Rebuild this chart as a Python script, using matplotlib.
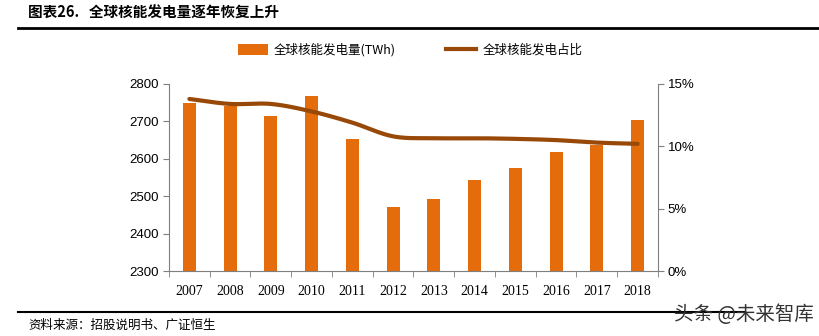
import numpy as np
import matplotlib
matplotlib.use("Agg")
import matplotlib.pyplot as plt
from matplotlib.lines import Line2D
from matplotlib.patches import Patch

plt.rcParams['font.family'] = ['Noto Sans CJK SC', 'DejaVu Sans']

years = ['2007', '2008', '2009', '2010', '2011', '2012', '2013', '2014', '2015', '2016', '2017', '2018']
generation = [2750, 2740, 2715, 2768, 2653, 2472, 2493, 2542, 2576, 2618, 2638, 2703]
share = [13.8, 13.4, 13.4, 12.8, 11.9, 10.8, 10.65, 10.65, 10.6, 10.5, 10.3, 10.2]

bar_color = '#E46C0A'
line_color = '#984807'
axis_color = '#7f7f7f'

fig = plt.figure(figsize=(8.2, 3.36), dpi=100)
ax = fig.add_axes([169/820, 1 - 271/336, (658-169)/820, (271-84)/336])
x = np.arange(len(years))
ax.bar(x, generation, width=0.32, color=bar_color, zorder=2)
ax.set_xlim(-0.5, len(years) - 0.5)
ax.set_ylim(2300, 2800)
ax.set_yticks([2300, 2400, 2500, 2600, 2700, 2800])
ax.set_xticks(x)
ax.set_xticklabels(years, family=['Liberation Serif'], fontsize=10)
ax.set_xticks(np.arange(len(years) + 1) - 0.5, minor=True)
ax.tick_params(axis='x', which='major', length=0, pad=10)
ax.tick_params(axis='x', which='minor', length=4, color=axis_color, direction='out')
ax.tick_params(axis='y', length=4, color=axis_color, labelsize=9.5, pad=3)
for lab in ax.get_yticklabels():
    lab.set_family(['Liberation Sans'])
for s in ['top', 'right']:
    ax.spines[s].set_visible(False)
for s in ['left', 'bottom']:
    ax.spines[s].set_color(axis_color)

ax2 = ax.twinx()
ax2.set_ylim(0, 15)
ax2.set_yticks([0, 5, 10, 15])
ax2.set_yticklabels(['0%', '5%', '10%', '15%'], family=['Liberation Sans'], fontsize=9.5)
ax2.tick_params(axis='y', length=4, color=axis_color, pad=3)
for s in ['top', 'left', 'bottom']:
    ax2.spines[s].set_visible(False)
ax2.spines['right'].set_color(axis_color)

# smooth curve (Catmull-Rom) through the data points
def catmull(xs, ys, n=30):
    xs = np.asarray(xs, float); ys = np.asarray(ys, float)
    px = np.concatenate([[2*xs[0]-xs[1]], xs, [2*xs[-1]-xs[-2]]])
    py = np.concatenate([[2*ys[0]-ys[1]], ys, [2*ys[-1]-ys[-2]]])
    ox, oy = [], []
    for i in range(1, len(px) - 2):
        t = np.linspace(0, 1, n, endpoint=False)
        for p, out in ((px, ox), (py, oy)):
            p0, p1, p2, p3 = p[i-1], p[i], p[i+1], p[i+2]
            out.extend(0.5*((2*p1) + (-p0+p2)*t + (2*p0-5*p1+4*p2-p3)*t**2 + (-p0+3*p1-3*p2+p3)*t**3))
    ox.append(xs[-1]); oy.append(ys[-1])
    return np.array(ox), np.array(oy)

sx, sy = catmull(x, share)
ax2.plot(sx, sy, color=line_color, lw=3, solid_capstyle='round', zorder=3)

# legend
handles = [Patch(facecolor=bar_color, edgecolor='none'),
           Line2D([0], [0], color=line_color, lw=3)]
fig.legend(handles, ['全球核能发电量(TWh)', '全球核能发电占比'], loc='center',
           bbox_to_anchor=(0.5, 1 - 50/336), ncol=2, frameon=False, fontsize=9,
           handlelength=2.4, handleheight=0.9, columnspacing=4, handletextpad=0.5)

# title and rules
fig.text(28/820, 1 - 13/336, '图表26.   全球核能发电量逐年恢复上升', fontsize=10.5,
         fontweight='bold', va='center', ha='left')
fig.add_artist(Line2D([18/820, 1.0], [1 - 28/336, 1 - 28/336], color='black', lw=2))
fig.add_artist(Line2D([18/820, 745/820], [1 - 312/336, 1 - 312/336], color='black', lw=1.5))
fig.text(28/820, 1 - 325/336, '资料来源：招股说明书、广证恒生', fontsize=9, va='center', ha='left')
fig.text(814/820, 1 - 314/336, '头条 @未来智库', fontsize=14, va='center', ha='right', color='#333333')

fig.savefig('out.png', dpi=100)
